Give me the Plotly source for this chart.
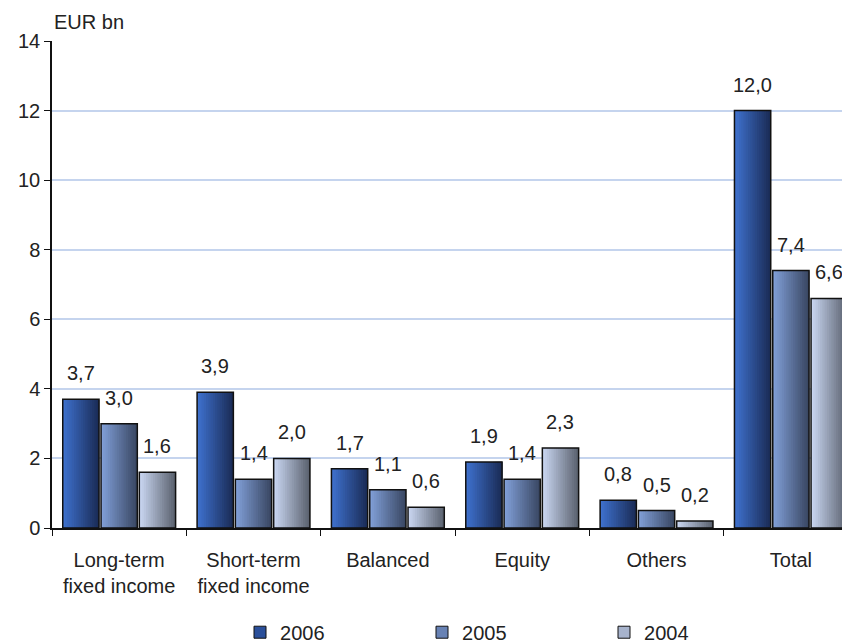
import plotly.graph_objects as go

# categories and values (EUR bn)
categories = ["Long-term<br>fixed income", "Short-term<br>fixed income", "Balanced",
              "Equity", "Others", "Total"]
years = ["2006", "2005", "2004"]
values_2006 = [3.7, 3.9, 1.7, 1.9, 0.8, 12.0]
values_2005 = [3.0, 1.4, 1.1, 1.4, 0.5, 7.4]
values_2004 = [1.6, 2.0, 0.6, 2.3, 0.2, 6.6]

series = [values_2006, values_2005, values_2004]

# left (light) -> right (dark) gradient colours per series
gradients = [
    ((62, 112, 204), (27, 45, 88)),
    ((128, 158, 214), (58, 72, 100)),
    ((200, 213, 240), (92, 99, 112)),
]
legend_colors = ["#2a4f9a", "#6882b4", "#a7b3cc"]

bar_w = 0.27
step = 0.285
n_slices = 16


def mix(c0, c1, t):
    return "rgb({},{},{})".format(*[round(a + (b - a) * t) for a, b in zip(c0, c1)])


fig = go.Figure()
labels = []

for i, (vals, (c_left, c_right)) in enumerate(zip(series, gradients)):
    start = (i - 1) * step - bar_w / 2
    # gradient made of overlapping slices, each running to the bar's right edge
    for k in range(n_slices):
        off = start + k * bar_w / n_slices
        fig.add_trace(go.Bar(
            x=categories, y=vals,
            offset=off, width=bar_w - k * bar_w / n_slices,
            marker=dict(color=mix(c_left, c_right, k / (n_slices - 1)), line=dict(width=0)),
            showlegend=False, hoverinfo="skip",
        ))
    # outline
    fig.add_trace(go.Bar(
        x=categories, y=vals,
        offset=start, width=bar_w,
        marker=dict(color="rgba(0,0,0,0)", line=dict(color="#111111", width=1.5)),
        showlegend=False, name=years[i],
    ))
    # value labels, a bit above each bar
    for j, v in enumerate(vals):
        labels.append(dict(
            x=j + (i - 1) * step, y=v, xref="x", yref="y",
            text=f"{v:.1f}".replace(".", ","), showarrow=False,
            xanchor="center", yanchor="bottom", yshift=13,
            font=dict(size=20, color="#222222"),
        ))

# legend entries
for year, col in zip(years, legend_colors):
    fig.add_trace(go.Bar(
        x=[categories[0]], y=[None], name=year,
        marker=dict(color=col, line=dict(color="#111111", width=1)),
    ))

labels.append(dict(
    text="EUR bn", xref="paper", yref="paper", x=0, y=1.04,
    xanchor="left", yanchor="middle", showarrow=False, font=dict(size=20),
))

# page body has an 8px margin, so the figure is sized to fit the window
fig.update_layout(
    width=842, height=636,
    barmode="overlay",
    separators=",.",
    plot_bgcolor="white", paper_bgcolor="white",
    font=dict(family="Liberation Sans, Arial, sans-serif", size=20, color="#222222"),
    margin=dict(l=44, r=0, t=33, b=116, autoexpand=False),
    xaxis=dict(
        range=[-0.5, 5.44],
        showline=True, linecolor="#111111", linewidth=1.5,
        ticks="outside", ticklen=6, tickcolor="#111111", tickson="boundaries",
        showgrid=False, ticklabelstandoff=13,
    ),
    yaxis=dict(
        range=[0, 14], dtick=2,
        showline=True, linecolor="#111111", linewidth=1.5,
        ticks="outside", ticklen=6, tickcolor="#111111",
        gridcolor="#c5d4ee", gridwidth=1.5, zeroline=False,
    ),
    legend=dict(
        orientation="h", x=0.2356, xanchor="left", y=-0.214, yanchor="middle",
        entrywidth=137, itemwidth=30, font=dict(size=20),
    ),
    annotations=labels,
)

fig.write_html("out.html")
